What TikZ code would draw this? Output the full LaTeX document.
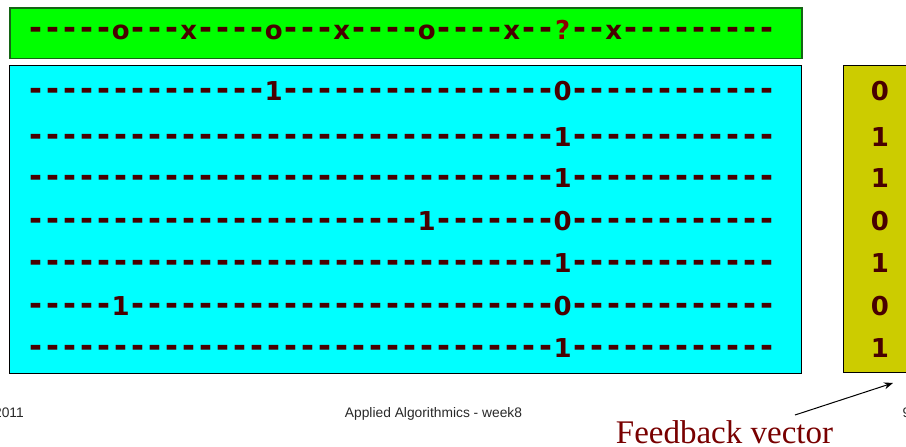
\documentclass[tikz,border=0pt]{standalone}
\usepackage{graphicx}
\usepackage{fontspec}
\setmainfont{Liberation Serif}
\newfontfamily\cellfont{DejaVu Sans}
\newfontfamily\footfont{Liberation Sans}
\usetikzlibrary{arrows.meta}

\definecolor{barGreen}{RGB}{0,255,0}
\definecolor{barEdge}{RGB}{20,100,20}
\definecolor{gridCyan}{RGB}{0,255,255}
\definecolor{vecYellow}{RGB}{204,204,0}
\definecolor{cellInk}{RGB}{72,0,0}
\definecolor{qmarkInk}{RGB}{140,0,0}
\definecolor{labelInk}{RGB}{120,0,0}
\definecolor{footInk}{RGB}{40,40,40}

% every character of a row sits in a cell of fixed pitch; spaces in the
% argument are skipped and only help reading the source
\newcommand\cellrow[1]{\cellsloop#1\relax}
\def\cellsloop#1{\ifx#1\relax\else\cellbox{#1}\expandafter\cellsloop\fi}
% hyphens are drawn a little longer and bolder than the font gives them
\newcommand\cellbox[1]{\makebox[17pt]{\ifx-#1\scalebox{1.2}[1.3]{-}\else#1\fi}}
\newcommand\qm{\textcolor{qmarkInk}{?}}

\begin{document}
\begin{tikzpicture}[x=1pt,y=-1pt,
  panel/.style={anchor=north west, inner sep=0pt, line width=1.2pt},
  rowtext/.style={anchor=base west, inner sep=0pt, text=cellInk,
    font=\cellfont\bfseries\fontsize{26}{26}\selectfont},
  bit/.style={anchor=base, inner sep=0pt, text=cellInk,
    font=\cellfont\bfseries\fontsize{26}{26}\selectfont},
  foot/.style={inner sep=0pt, text=footInk,
    font=\footfont\fontsize{13.8}{14}\selectfont}]
\useasboundingbox (0,0) rectangle (906,447);

% panels
\node[panel, fill=barGreen, draw=barEdge, line width=1.5pt,
      minimum width=792pt, minimum height=50.5pt] (bar) at (9,7) {};
\node[panel, fill=gridCyan, draw=black,
      minimum width=792pt, minimum height=308pt] (grid) at (9,65) {};
\node[panel, fill=vecYellow, draw=black,
      minimum width=90pt, minimum height=307pt] (vec) at (842.5,65) {};

% top line
\node[rowtext] (top) at (27,39.3)
  {\cellrow{----- o --- x ---- o --- x ---- o ---- x -- \qm -- x ----- ----}};

% rows of the matrix
\node[rowtext] (r1) at (27,100)   {\cellrow{----- ----- ---- 1 ----- ----- ----- - 0 ----- ----- --}};
\node[rowtext] (r2) at (27,146)   {\cellrow{----- ----- ----- ----- ----- ----- - 1 ----- ----- --}};
\node[rowtext] (r3) at (27,187.5) {\cellrow{----- ----- ----- ----- ----- ----- - 1 ----- ----- --}};
\node[rowtext] (r4) at (27,230)   {\cellrow{----- ----- ----- ----- --- 1 ----- -- 0 ----- ----- --}};
\node[rowtext] (r5) at (27,272.5) {\cellrow{----- ----- ----- ----- ----- ----- - 1 ----- ----- --}};
\node[rowtext] (r6) at (27,315)   {\cellrow{----- 1 ----- ----- ----- ----- ----- 0 ----- ----- --}};
\node[rowtext] (r7) at (27,357.5) {\cellrow{----- ----- ----- ----- ----- ----- - 1 ----- ----- --}};

% feedback vector entries
\node[bit] (v1) at (880,100)   {0};
\node[bit] (v2) at (880,146)   {1};
\node[bit] (v3) at (880,187.5) {1};
\node[bit] (v4) at (880,230)   {0};
\node[bit] (v5) at (880,272.5) {1};
\node[bit] (v6) at (880,315)   {0};
\node[bit] (v7) at (880,357.5) {1};

% footer
\node[foot, anchor=base east] (year) at (24,417.5) {2011};
\node[foot, anchor=base] (course) at (433.5,417.5) {Applied Algorithmics - week8};
\node[foot, anchor=base west] (page) at (902.5,417.5) {9};

% label with its arrow
\node[anchor=base, inner sep=0pt, text=labelInk,
      font=\fontsize{33}{33}\selectfont] (fblabel) at (724.5,443) {Feedback vector};
\coordinate (fbtail) at (795,415);
\coordinate (fbtip) at (893,383);
\draw[line width=1pt, -{Stealth[length=9pt,width=7pt]}] (fbtail) -- (fbtip);
\end{tikzpicture}
\end{document}
